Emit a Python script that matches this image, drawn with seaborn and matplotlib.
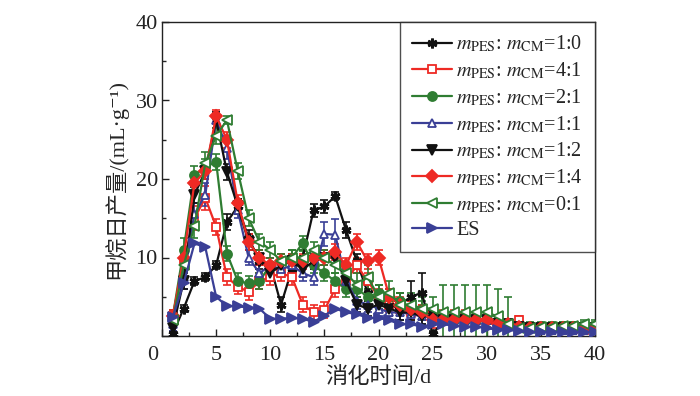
import numpy as np
import pandas as pd
import matplotlib
matplotlib.use("Agg")
import matplotlib.pyplot as plt
import seaborn as sns

sns.set_theme(style="ticks")
plt.rcParams['font.family'] = ['Liberation Serif', 'DejaVu Serif', 'Noto Sans CJK SC']
plt.rcParams['mathtext.fontset'] = 'stix'
plt.rcParams['axes.unicode_minus'] = False

days = list(range(1, 41))

s_10 = [0.3, 3.5, 7, 7.5, 9, 14.5, 16.5, 12.5, 9.5, 9, 4, 8.5, 10, 16, 16.5, 17.8, 13.5, 9.5, 5.5, 4.5,
        5, 4, 5, 5.5, 0.2, 2, 2.5, 2, 2, 2, 2, 1.5, 1.5, 1.2, 1.2, 1.2, 1.2, 1.2, 1.2, 1.0]
s_41 = [2.5, 9.5, 15, 17.6, 13.9, 7.5, 6.3, 5.6, 7, 7.5, 8, 7.5, 4, 3, 3.3, 6, 7, 9, 7, 5,
        4, 3.5, 3, 3, 2.5, 2.5, 2.5, 2.5, 2, 2, 1.5, 1.5, 2, 1, 1, 1, 0.9, 0.9, 0.8, 0.8]
s_21 = [2.5, 11, 20.5, 21.5, 22.2, 10.5, 7, 6.7, 7, 9, 9.5, 10, 11.8, 9, 8, 7, 6, 6, 5, 5.5,
        5, 4.5, 3.5, 3.5, 2.5, 2, 2, 2, 2, 2, 1.5, 1.5, 1.3, 1.3, 1.3, 1.3, 1.3, 1.3, 1.3, 1.3]
s_11 = [1.5, 7.5, 15.5, 18, 27.5, 24, 16, 10, 8, 9, 8.5, 9, 8, 7.5, 13, 12.9, 7, 4.5, 4, 3.5,
        3, 3, 2.8, 2.5, 2.5, 2.2, 2, 2, 2, 2, 1.5, 1.5, 1.2, 1, 0.8, 0.8, 0.8, 0.8, 0.8, 0.8]
s_12 = [1, 7, 18, 21, 27.5, 20.9, 16.5, 12, 10, 8, 9, 9.5, 8.5, 9.5, 10, 10, 7, 4, 3.5, 4,
        3.5, 3, 3, 2.5, 2.5, 2, 2, 2, 2, 2, 1.5, 1.5, 1.2, 1, 1, 1, 1, 1, 1, 1]
s_14 = [2.5, 10, 19.5, 21, 28, 25, 17, 12, 10, 9, 9.5, 9.5, 9.5, 10, 10, 10.7, 9, 12, 9.5, 10,
        5, 4, 3.5, 3, 2, 2, 2, 2, 2, 2, 1.5, 1.5, 1.2, 1, 1, 1, 1, 1, 1, 1]
s_01 = [2, 9, 14, 22, 25.5, 27.5, 21, 15, 12, 11, 9.5, 10, 10, 11, 10, 9, 8, 6.5, 7.5, 5,
        5.5, 4, 4, 3.5, 3.5, 3, 3, 3, 3, 3, 2.5, 1.5, 1, 1, 1.2, 1.2, 1.3, 1.3, 1.5, 1.5]
s_es = [2.4, 6.7, 11.8, 11.3, 5, 3.8, 3.8, 3.6, 3.5, 2.2, 2.2, 2.3, 2.2, 1.8, 2.6, 3.5, 3, 2.8, 2.3, 2.3,
        2, 1.5, 1.5, 1.2, 1.5, 1.5, 1.3, 1.2, 1.2, 1, 0.8, 0.8, 0.6, 0.5, 0.5, 0.5, 0.5, 0.5, 0.5, 0.5]

e_10 = [0.3, 0.5, 0.5, 0.5, 0.5, 1, 1, 1, 1, 1, 1, 1, 1, 0.8, 0.8, 0.5, 1, 1, 1, 1,
        1, 1.5, 2, 2.5, 0.5, 0.5, 0.5, 0.5, 0.5, 0.5, 0.5, 0.5, 0.3, 0.3, 0.3, 0.3, 0.3, 0.3, 0.3, 0.3]
e_41 = [0.8, 1, 1.5, 1.5, 1, 1, 1, 1, 1, 1, 1, 1, 1, 1, 1, 1, 1, 1, 1, 1,
        1, 1, 1, 1, 1, 0.8, 0.8, 0.8, 0.8, 0.8, 0.5, 0.5, 0.5, 0.5, 0.5, 0.5, 0.5, 0.5, 0.5, 0.5]
e_21 = [0.8, 1.5, 1.2, 1, 1, 1, 1, 1, 1, 1, 1, 1, 1, 1, 1, 1, 1, 1, 1, 1,
        1, 1, 1, 1, 1, 0.5, 0.5, 0.5, 0.5, 0.5, 0.5, 0.5, 0.5, 0.5, 0.5, 0.5, 0.5, 0.5, 0.5, 0.5]
e_11 = [0.8, 1.5, 1.5, 1.5, 1, 1.5, 1, 1, 1, 1, 1, 1, 1, 1, 1.5, 2, 1, 1, 1, 1,
        1, 1, 1, 1, 1, 0.5, 0.5, 0.5, 0.5, 0.5, 0.5, 0.5, 0.5, 0.5, 0.5, 0.5, 0.5, 0.5, 0.5, 0.5]
e_12 = [0.5, 1, 1, 1, 1, 1, 1, 1, 1, 1, 1, 1, 1, 1, 1, 1, 1, 1, 1, 1,
        1, 1, 1, 1, 1, 0.5, 0.5, 0.5, 0.5, 0.5, 0.5, 0.5, 0.5, 0.5, 0.5, 0.5, 0.5, 0.5, 0.5, 0.5]
e_14 = [0.8, 1, 1, 1, 0.8, 1, 1, 1, 1, 1, 1, 1, 1, 1, 1, 1, 1, 1, 1, 1,
        1, 1, 1, 1, 1, 0.5, 0.5, 0.5, 0.5, 0.5, 0.5, 0.5, 0.5, 0.5, 0.5, 0.5, 0.5, 0.5, 0.5, 0.5]
e_01 = [0.8, 1.5, 1.5, 1.5, 1, 0.5, 1, 1, 1, 1, 1, 1, 1, 1, 1, 1, 1, 1.5, 1.5, 1.5,
        1.5, 1.5, 1.5, 1.5, 1.5, 3.5, 3.5, 3.5, 3.5, 3.5, 3.5, 3.5, 0.5, 0.5, 0.5, 0.5, 0.5, 0.5, 0.5, 0.5]

labels = [r'$m_{\mathrm{PES}}$: $m_{\mathrm{CM}}$=1:0',
          r'$m_{\mathrm{PES}}$: $m_{\mathrm{CM}}$=4:1',
          r'$m_{\mathrm{PES}}$: $m_{\mathrm{CM}}$=2:1',
          r'$m_{\mathrm{PES}}$: $m_{\mathrm{CM}}$=1:1',
          r'$m_{\mathrm{PES}}$: $m_{\mathrm{CM}}$=1:2',
          r'$m_{\mathrm{PES}}$: $m_{\mathrm{CM}}$=1:4',
          r'$m_{\mathrm{PES}}$: $m_{\mathrm{CM}}$=0:1',
          'ES']

BLACK = '#111111'
RED = '#ee2a24'
GREEN = '#2f7d32'
BLUE = '#3a3f96'

series = [
    (s_10, e_10, BLACK, (6, 2, 0), BLACK, 7, 2.0),
    (s_41, e_41, RED, 's', 'white', 5.5, 1.3),
    (s_21, e_21, GREEN, 'o', GREEN, 6.5, 1.3),
    (s_11, e_11, BLUE, '^', 'white', 6, 1.3),
    (s_12, e_12, BLACK, 'v', BLACK, 7, 1.3),
    (s_14, e_14, RED, 'D', RED, 6, 1.3),
    (s_01, e_01, GREEN, '<', 'white', 6.5, 1.3),
    (s_es, None, BLUE, '>', BLUE, 7, 1.3),
]

fig = plt.figure(figsize=(7, 3.96), dpi=100)
ax = fig.add_axes([162 / 700, 1 - 336 / 396, (595 - 162) / 700, (336 - 22) / 396])

for (vals, err, c, m, fc, ms, mew), lab in zip(series, labels):
    if err is not None:
        ax.errorbar(days, vals, yerr=err, fmt='none', ecolor=c, elinewidth=1.2,
                    capsize=3, capthick=1.2, zorder=2)
    sns.lineplot(x=days, y=vals, ax=ax, color=c, marker=m, markersize=ms,
                 markerfacecolor=fc, markeredgecolor=c, markeredgewidth=mew,
                 linewidth=1.6, label=lab, zorder=3)

ax.set_xlim(0, 40)
ax.set_ylim(0, 40)
ax.set_xticks(range(0, 41, 5))
ax.set_xticks(np.arange(0, 41, 2.5), minor=True)
ax.set_yticks(range(0, 41, 10))
ax.set_yticks(range(0, 41, 5), minor=True)
ax.set_xticklabels([''] + [str(v) for v in range(5, 41, 5)])
ax.set_yticklabels([''] + [str(v) for v in range(10, 41, 10)])
ax.annotate('0', xy=(0, 0), xycoords='data', xytext=(-7, -7), textcoords='offset points',
            ha='center', va='top', fontsize=16, annotation_clip=False)
ax.tick_params(axis='both', which='major', direction='in', length=5, width=1,
               labelsize=16, colors='#222222', top=False, right=False)
ax.tick_params(axis='both', which='minor', direction='in', length=3, width=1,
               top=False, right=False)
ax.tick_params(axis='x', which='major', pad=7)
ax.tick_params(axis='y', which='major', pad=3)
for sp in ax.spines.values():
    sp.set_visible(True)
    sp.set_color('#222222')
    sp.set_linewidth(1)

ax.set_xlabel('消化时间/d', fontsize=16, labelpad=2)
ax.set_ylabel('甲烷日产量/(mL·g⁻¹)', fontsize=16, labelpad=6)

leg = ax.legend(loc='upper right', fontsize=14.5, frameon=True, fancybox=False,
                edgecolor='#222222', borderaxespad=0, labelspacing=0.3,
                handlelength=2.0, handletextpad=0.2, borderpad=0.6)
leg.get_frame().set_linewidth(1)

fig.savefig('out.png', dpi=100)
